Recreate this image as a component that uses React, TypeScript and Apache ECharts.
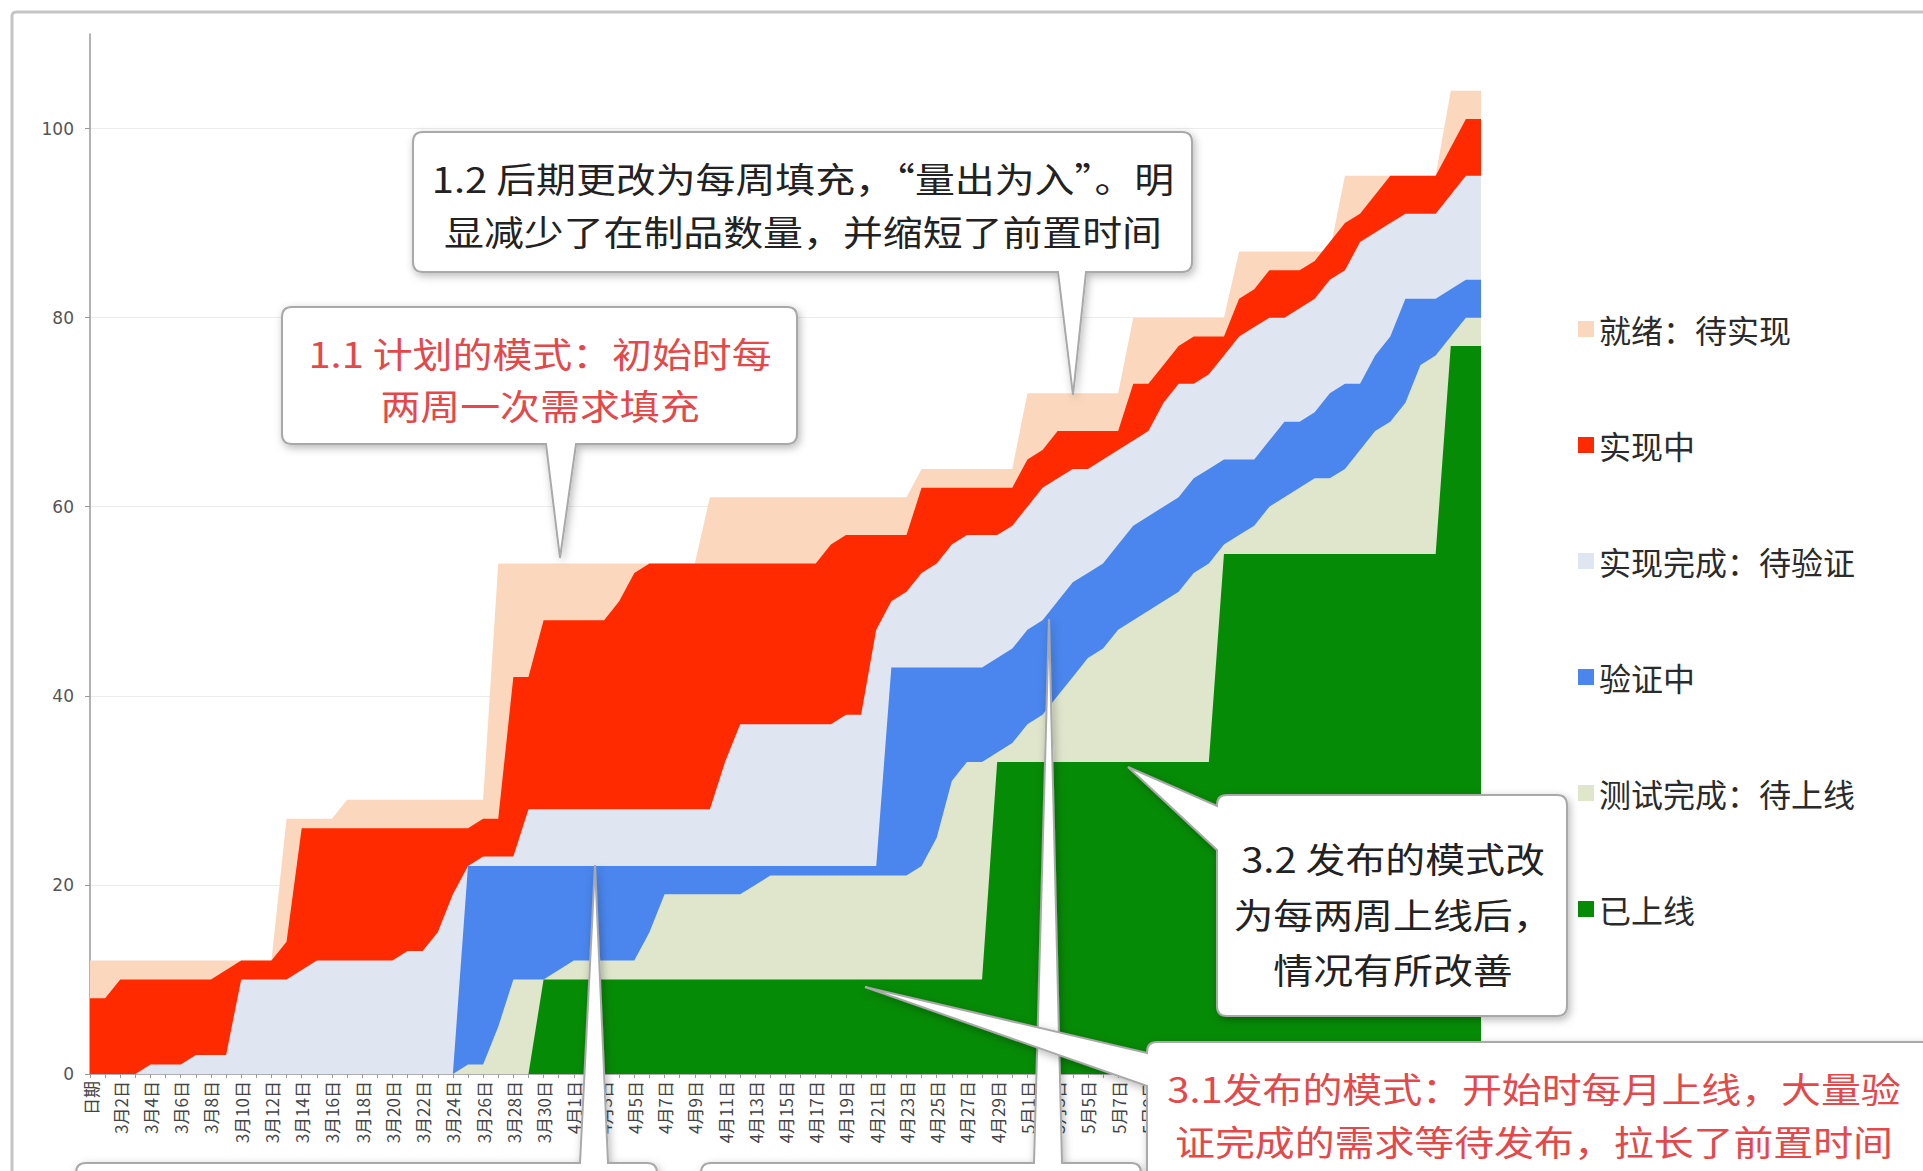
import React, { useEffect, useRef } from "react";
import * as echarts from "echarts";

// ---------- data ----------
const categories = [
  "日期",
  "3月1日","3月2日","3月3日","3月4日","3月5日","3月6日","3月7日","3月8日","3月9日","3月10日",
  "3月11日","3月12日","3月13日","3月14日","3月15日","3月16日","3月17日","3月18日","3月19日","3月20日",
  "3月21日","3月22日","3月23日","3月24日","3月25日","3月26日","3月27日","3月28日","3月29日","3月30日","3月31日",
  "4月1日","4月2日","4月3日","4月4日","4月5日","4月6日","4月7日","4月8日","4月9日","4月10日",
  "4月11日","4月12日","4月13日","4月14日","4月15日","4月16日","4月17日","4月18日","4月19日","4月20日",
  "4月21日","4月22日","4月23日","4月24日","4月25日","4月26日","4月27日","4月28日","4月29日","4月30日",
  "5月1日","5月2日","5月3日","5月4日","5月5日","5月6日","5月7日","5月8日","5月9日","5月10日",
  "5月11日","5月12日","5月13日","5月14日","5月15日","5月16日","5月17日","5月18日","5月19日","5月20日",
  "5月21日","5月22日","5月23日","5月24日","5月25日","5月26日","5月27日","5月28日","5月29日","5月30日","5月31日",
];

const seriesNames = ["就绪：待实现", "实现中", "实现完成：待验证", "验证中", "测试完成：待上线", "已上线"];

// cumulative counts (top edge of each band)
const readyCum = [
  12,12,12,12,12,12,12,12,12,12,12,12,12,
  27,27,27,27,
  29,29,29,29,29,29,29,29,29,29,
  54,54,54,54,54,54,54,54,54,54,54,54,54,54,
  61,61,61,61,61,61,61,61,61,61,61,61,61,61,
  64,64,64,64,64,64,64,
  72,72,72,72,72,72,72,
  80,80,80,80,80,80,80,
  87,87,87,87,87,87,87,
  95,95,95,95,95,95,95,
  104,104,104,
];
const inProgressCum = [
  8,8,10,10,10,10,10,10,10,11,12,12,12,14,
  26,26,26,26,26,26,26,26,26,26,26,26,
  27,27,42,42,48,48,48,48,48,50,53,
  54,54,54,54,54,54,54,54,54,54,54,54,
  56,57,57,57,57,57,
  62,62,62,62,62,62,62,
  65,66,68,68,68,68,68,
  73,73,75,77,78,78,78,
  82,83,85,85,85,86,88,
  90,91,93,95,95,95,95,
  98,101,101,
];
const implDoneCum = [
  0,0,0,0,1,1,1,2,2,2,
  10,10,10,10,11,12,12,12,12,12,12,13,13,15,19,22,
  23,23,23,
  28,28,28,28,28,28,28,28,28,28,28,28,28,
  33,37,37,37,37,37,37,37,
  38,38,47,50,51,53,54,56,57,57,57,58,60,62,63,64,64,65,66,67,68,71,
  73,73,74,76,78,79,80,80,81,82,84,85,88,89,90,91,91,91,93,95,95,
];
const verifyingCum = [
  0,0,0,0,0,0,0,0,0,0,0,0,0,0,0,0,0,0,0,0,0,0,0,0,0,
  22,22,22,22,22,22,22,22,22,22,22,22,22,22,22,22,22,22,22,22,22,22,22,22,22,22,22,22,
  43,43,43,43,43,43,43,
  44,45,47,48,50,52,53,54,56,58,59,60,61,63,64,65,65,65,67,69,69,70,72,73,73,76,78,82,82,82,83,84,84,
];
const testedCum = [
  0,0,0,0,0,0,0,0,0,0,0,0,0,0,0,0,0,0,0,0,0,0,0,0,0,
  1,1,5,10,10,10,11,12,12,12,12,12,15,19,19,19,19,19,19,20,
  21,21,21,21,21,21,21,21,21,21,
  22,25,31,33,33,34,35,37,38,40,42,44,45,47,48,49,50,51,53,54,56,57,58,60,61,62,63,63,64,66,68,69,71,75,76,78,80,80,
];
const releasedCum = [
  0,0,0,0,0,0,0,0,0,0,0,0,0,0,0,0,0,0,0,0,0,0,0,0,0,0,0,0,0,0,
  10,10,10,10,10,10,10,10,10,10,10,10,10,10,10,10,10,10,10,10,10,10,10,10,10,10,10,10,10,10,
  33,33,33,33,33,33,33,33,33,33,33,33,33,33,33,
  55,55,55,55,55,55,55,55,55,55,55,55,55,55,55,
  77,77,77,
];

const seriesData = [readyCum, inProgressCum, implDoneCum, verifyingCum, testedCum, releasedCum];
const seriesColors = ["#fbd8bd", "#ff2a00", "#dfe6f1", "#4a86ee", "#dfe6cc", "#068b06"];

const note12 = ["1.2 后期更改为每周填充，“量出为入”。明", "显减少了在制品数量，并缩短了前置时间"];
const note11 = ["1.1 计划的模式：初始时每", "两周一次需求填充"];
const note32 = ["3.2 发布的模式改", "为每两周上线后，", "情况有所改善"];
const note31 = ["3.1发布的模式：开始时每月上线，大量验", "证完成的需求等待发布，拉长了前置时间"];

// ---------- helpers ----------
type Ptr = { edge: "top" | "bottom" | "left"; a: number; b: number; tx: number; ty: number };
function calloutPath(x: number, y: number, w: number, h: number, r: number, p: Ptr) {
  const R = x + w;
  const B = y + h;
  let d = `M${x + r} ${y}`;
  if (p.edge === "top") d += ` L${p.a} ${y} L${p.tx} ${p.ty} L${p.b} ${y}`;
  d += ` L${R - r} ${y} Q${R} ${y} ${R} ${y + r} L${R} ${B - r} Q${R} ${B} ${R - r} ${B}`;
  if (p.edge === "bottom") d += ` L${p.b} ${B} L${p.tx} ${p.ty} L${p.a} ${B}`;
  d += ` L${x + r} ${B} Q${x} ${B} ${x} ${B - r}`;
  if (p.edge === "left") d += ` L${x} ${p.b} L${p.tx} ${p.ty} L${x} ${p.a}`;
  d += ` L${x} ${y + r} Q${x} ${y} ${x + r} ${y} Z`;
  return d;
}

const boxStyle = {
  fill: "#ffffff",
  stroke: "#a9a9a9",
  lineWidth: 2,
  shadowBlur: 8,
  shadowColor: "rgba(0,0,0,0.28)",
  shadowOffsetX: 2,
  shadowOffsetY: 3,
};

function textLines(lines: string[], cx: number, ys: number[], color: string) {
  return lines.map((t, i) => ({
    type: "text",
    x: cx,
    y: ys[i],
    scaleX: 1.14,
    z: 110,
    silent: true,
    style: {
      text: t,
      fill: color,
      fontSize: 35,
      fontFamily: "Noto Sans CJK SC",
      align: "center",
      verticalAlign: "middle",
      textAlign: "center",
      textVerticalAlign: "middle",
    },
  }));
}

export default function App() {
  const ref = useRef<HTMLDivElement>(null);
  useEffect(() => {
    if (!ref.current) return;

    const callouts: { name: string; d: string }[] = [
      { name: "cbBottom1", d: calloutPath(76, 1163, 581, 80, 10, { edge: "top", a: 580, b: 608, tx: 595, ty: 865 }) },
      { name: "cbBottom2", d: calloutPath(701, 1163, 440, 80, 10, { edge: "top", a: 1034, b: 1062, tx: 1049, ty: 619 }) },
      { name: "cb12", d: calloutPath(413, 132, 779, 140, 10, { edge: "bottom", a: 1058, b: 1086, tx: 1073, ty: 395 }) },
      { name: "cb11", d: calloutPath(282, 307, 515, 137, 10, { edge: "bottom", a: 546, b: 576, tx: 560, ty: 558 }) },
      { name: "cb32", d: calloutPath(1217, 795, 350, 221, 10, { edge: "left", a: 806, b: 850, tx: 1128, ty: 767 }) },
      { name: "cb31", d: calloutPath(1147, 1042, 800, 160, 10, { edge: "left", a: 1053, b: 1086, tx: 865, ty: 987 }) },
    ];
    callouts.forEach((c) => {
      echarts.graphic.registerShape(c.name, echarts.graphic.extendPath(c.d, {}) as any);
    });

    const chart = echarts.init(ref.current, undefined, { renderer: "svg" });
    const option: any = {
      animation: false,
      backgroundColor: "#ffffff",
      textStyle: { fontFamily: "Noto Sans CJK SC, sans-serif" },
      color: seriesColors,
      grid: { left: 90, right: 442, top: 34, bottom: 97, containLabel: false },
      legend: {
        orient: "vertical",
        left: 1573,
        top: 308,
        icon: "rect",
        itemWidth: 16,
        itemHeight: 16,
        itemGap: 84,
        selectedMode: false,
        data: seriesNames,
        textStyle: { fontSize: 32, lineHeight: 32, color: "#2b2b2b", fontFamily: "Noto Sans CJK SC" },
      },
      xAxis: {
        type: "category",
        data: categories,
        boundaryGap: false,
        axisLine: { lineStyle: { color: "#9a9a9a", width: 1.5 } },
        axisTick: { show: true, interval: 0, length: 4, lineStyle: { color: "#9a9a9a" } },
        axisLabel: {
          interval: 1,
          rotate: 90,
          fontSize: 17,
          color: "#444",
          margin: 7,
          fontFamily: "Noto Sans CJK SC",
        },
        splitLine: { show: false },
      },
      yAxis: {
        type: "value",
        min: 0,
        max: 110,
        interval: 20,
        axisLine: { show: true, lineStyle: { color: "#9a9a9a", width: 1.5 } },
        axisTick: { show: true, length: 5, lineStyle: { color: "#9a9a9a" } },
        axisLabel: { fontSize: 17, color: "#555", margin: 16, fontFamily: "DejaVu Sans", showMaxLabel: false },
        splitLine: { show: true, showMaxLine: false, lineStyle: { color: "#ececec", width: 1 } },
      },
      series: seriesNames.map((name, i) => ({
        name,
        type: "line",
        data: seriesData[i],
        symbol: "none",
        showSymbol: false,
        lineStyle: { width: 0, color: seriesColors[i] },
        itemStyle: { color: seriesColors[i] },
        areaStyle: { color: seriesColors[i], opacity: 1 },
        emphasis: { disabled: true },
        silent: true,
      })),
      graphic: [
        {
          type: "rect",
          z: 90,
          silent: true,
          shape: { x: 12, y: 12, width: 1960, height: 1200, r: 4 },
          style: { fill: "none", stroke: "#c4c4c4", lineWidth: 3 },
        },
        ...callouts.map((c) => ({ type: c.name, z: 100, silent: true, style: { ...boxStyle } })),
        ...textLines(note12, 803, [178, 231], "#222222"),
        ...textLines(note11, 540, [353, 405], "#e5484a"),
        ...textLines(note32, 1393, [858, 914, 969], "#222222"),
        ...textLines(note31, 1534, [1088, 1141], "#e5484a"),
      ],
    };
    chart.setOption(option);
    return () => chart.dispose();
  }, []);

  return (
    <div
      ref={ref}
      style={{ position: "absolute", left: 0, top: 0, width: 1923, height: 1171, background: "#fff" }}
    />
  );
}
